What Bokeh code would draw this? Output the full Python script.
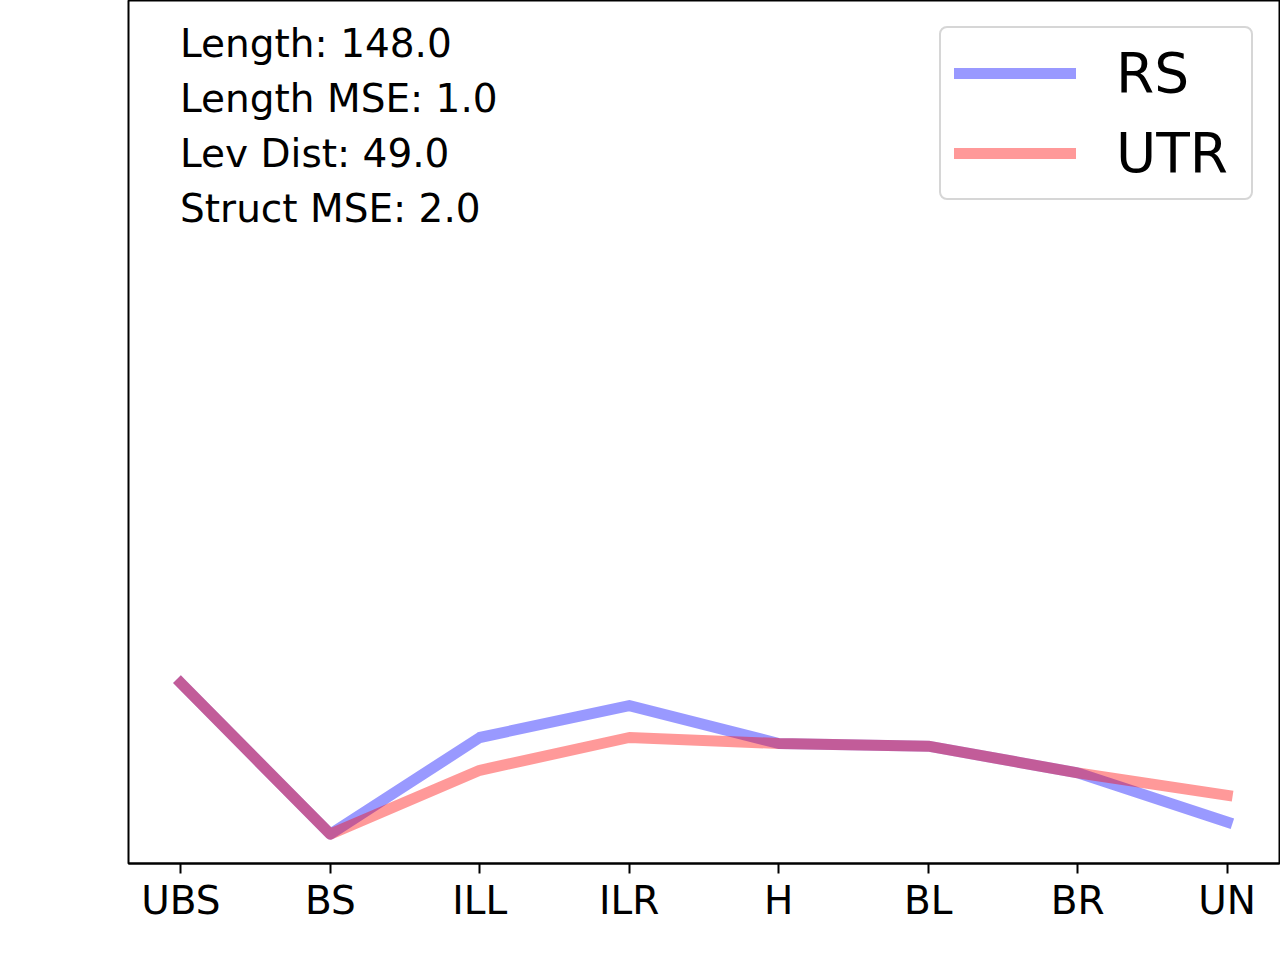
from bokeh.plotting import figure
from bokeh.models import Range1d, FixedTicker, Label, Legend, LegendItem
from bokeh.embed import file_html
from bokeh.resources import INLINE

categories = ["UBS", "BS", "ILL", "ILR", "H", "BL", "BR", "UN"]
rs_values = [0.209, 0.034, 0.146, 0.183, 0.139, 0.136, 0.105, 0.048]
utr_values = [0.209, 0.034, 0.108, 0.146, 0.139, 0.136, 0.105, 0.079]
stats_lines = ["Length: 148.0", "Length MSE: 1.0", "Lev Dist: 49.0", "Struct MSE: 2.0"]
stats_y = [0.950, 0.886, 0.8225, 0.759]

FONT = "DejaVu Sans"
xs = list(range(len(categories)))

p = figure(width=1280, height=960, output_backend="svg", toolbar_location=None,
           x_range=Range1d(-0.35, len(categories) - 1 + 0.35),
           y_range=Range1d(0, 1),
           min_border_left=128, min_border_right=1, min_border_top=0, min_border_bottom=97)
p.background_fill_color = "white"
p.border_fill_color = "white"
p.outline_line_color = "black"
p.outline_line_width = 2
p.xgrid.visible = False
p.ygrid.visible = False
p.yaxis.visible = False

ax = p.xaxis[0]
ax.ticker = FixedTicker(ticks=xs)
ax.major_label_overrides = {i: c for i, c in enumerate(categories)}
ax.major_label_text_font = FONT
ax.major_label_text_font_size = "39px"
ax.major_label_text_color = "black"
ax.major_label_standoff = 4
ax.axis_line_color = "black"
ax.axis_line_width = 2
ax.major_tick_line_color = "black"
ax.major_tick_line_width = 2
ax.major_tick_out = 10
ax.major_tick_in = 0
ax.minor_tick_line_color = None

r1 = p.line(xs, rs_values, line_color="blue", line_alpha=0.4, line_width=11,
            line_join="round", line_cap="square")
r2 = p.line(xs, utr_values, line_color="red", line_alpha=0.4, line_width=11,
            line_join="round", line_cap="square")

for t, yv in zip(stats_lines, stats_y):
    p.add_layout(Label(x=-0.005, y=yv, text=t, text_font=FONT, text_font_size="39px",
                       text_color="black", text_baseline="alphabetic", text_align="left"))

legend = Legend(items=[LegendItem(label="RS", renderers=[r1]),
                       LegendItem(label="UTR", renderers=[r2])],
                location="top_right")
legend.margin = 26
legend.padding = 13
legend.spacing = 16
legend.glyph_width = 122
legend.glyph_height = 60
legend.label_standoff = 40
legend.label_width = 122
legend.label_text_font = FONT
legend.label_text_font_size = "55px"
legend.label_text_color = "black"
legend.border_line_color = "#d6d6d6"
legend.border_line_alpha = 1.0
legend.border_line_width = 2
legend.background_fill_color = "white"
legend.background_fill_alpha = 0.8
if "border_radius" in Legend.properties():
    legend.border_radius = 8
p.add_layout(legend)

open("out.html", "w").write(file_html(p, INLINE))
